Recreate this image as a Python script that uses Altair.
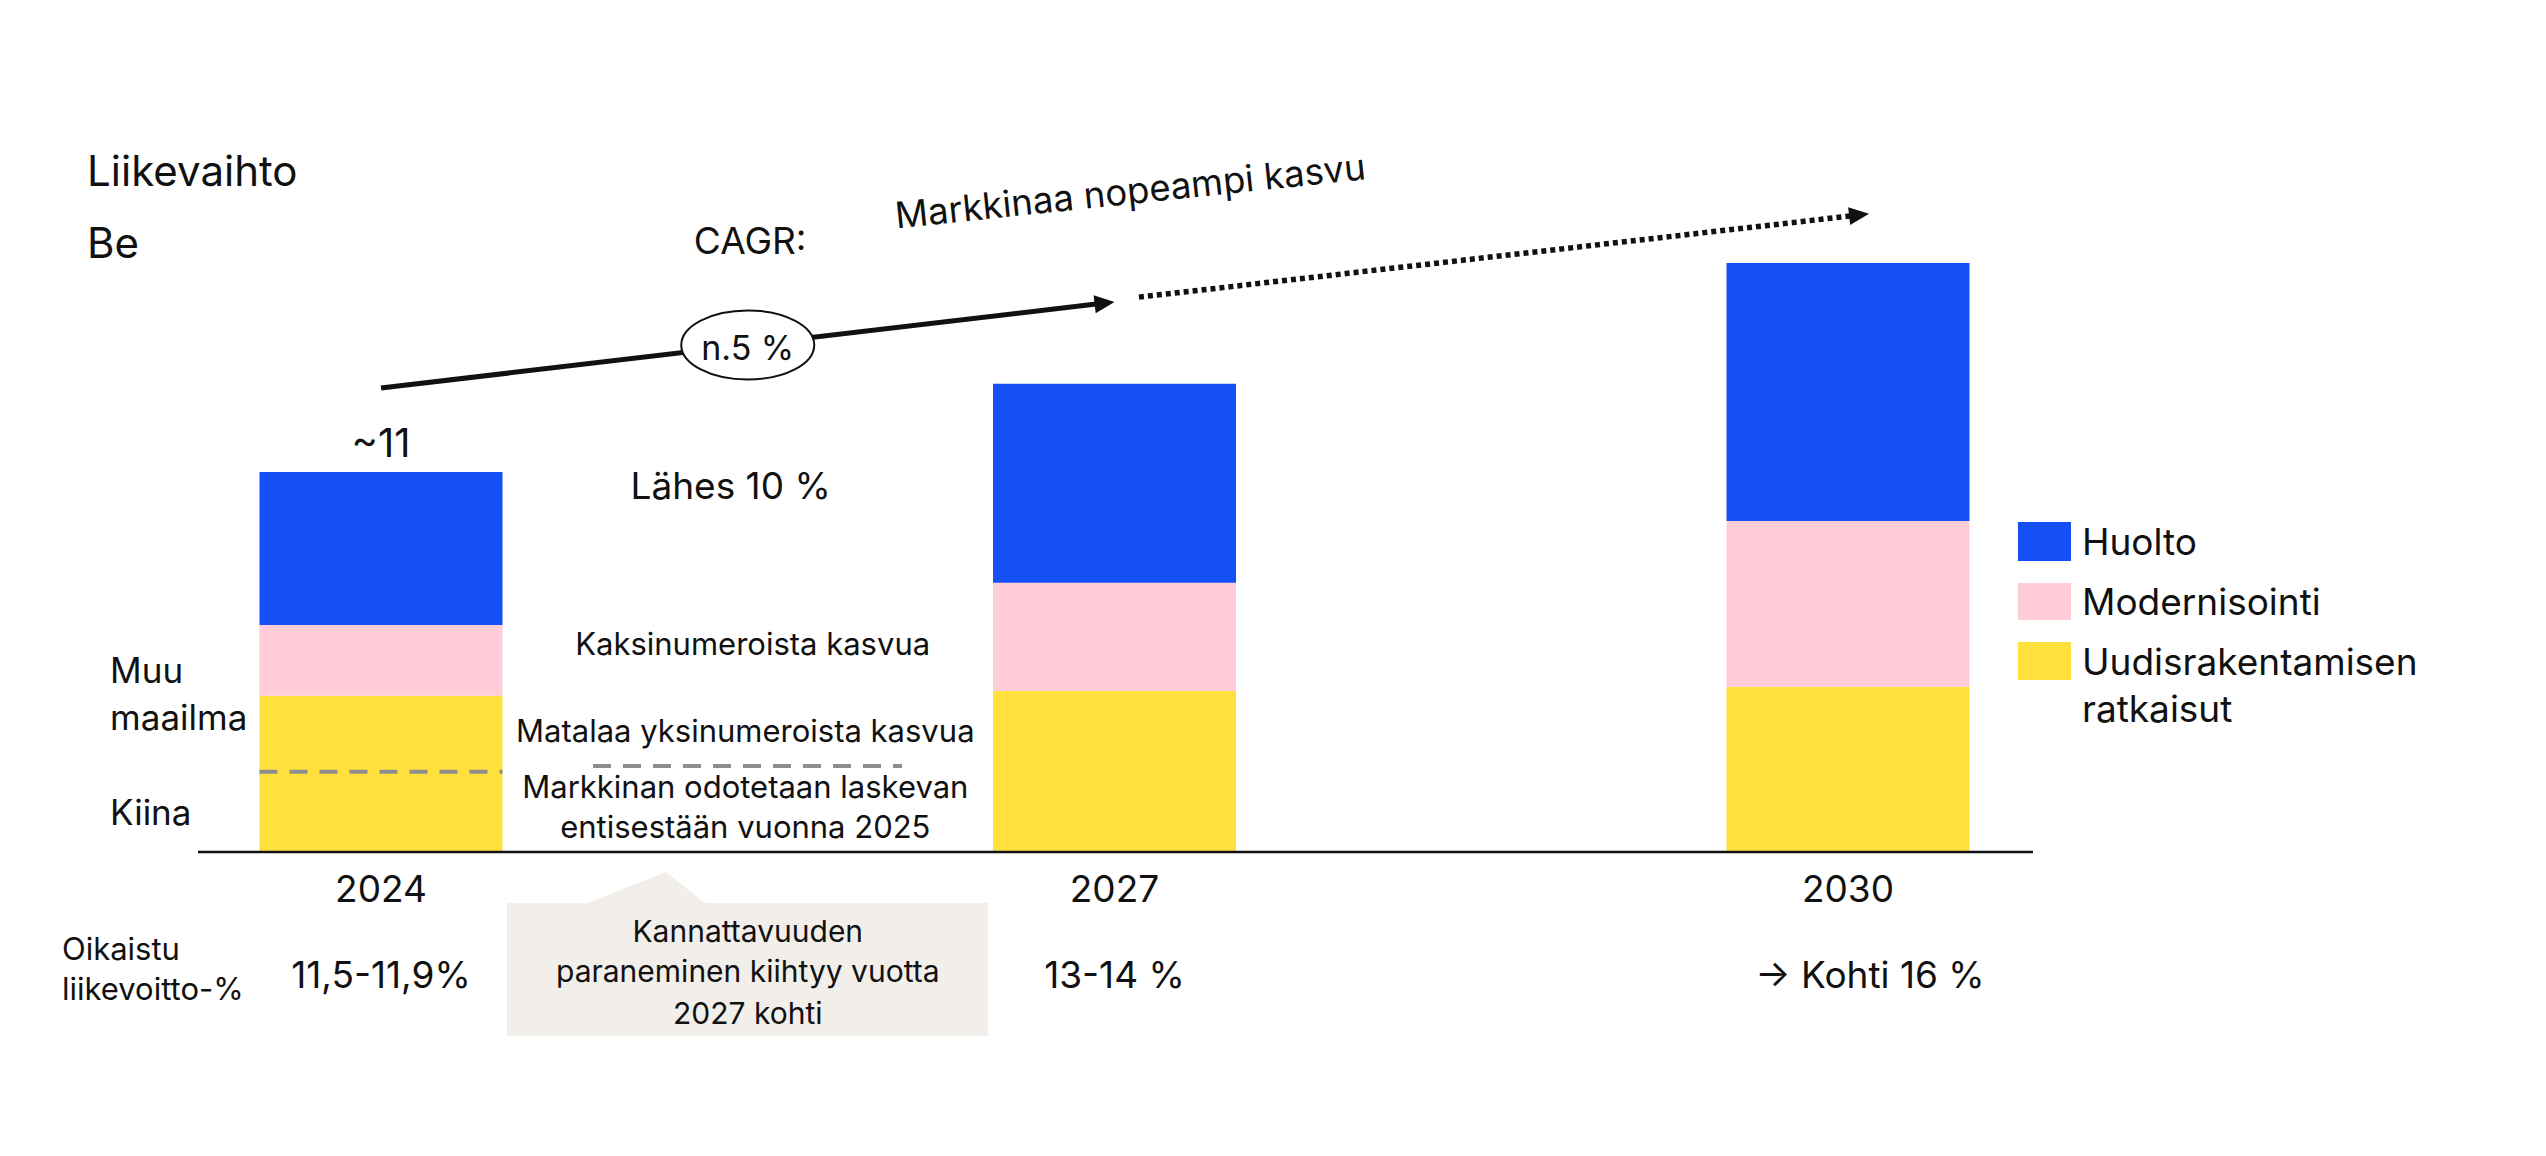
import altair as alt
import pandas as pd

# ---------------- data ----------------
years = [2024, 2027, 2030]
series = ["Uudisrakentamisen ratkaisut", "Modernisointi", "Huolto"]
series_colors = ["#FFE03C", "#FFCCD8", "#1450F5"]
new_build = [4.52, 4.66, 4.78]        # Uudisrakentamisen ratkaisut
modernization = [2.05, 3.13, 4.80]    # Modernisointi
maintenance = [4.43, 5.76, 7.47]      # Huolto
total_label = ["~11", "", ""]
year_label = ["2024", "2027", "2030"]
margin_label = ["11,5-11,9%", "13-14 %", "\u2192 Kohti 16 %"]
margin_x = [2024.0, 2027.0, 2030.09]
china_2024 = 2.32                     # Kiina share of 2024 new-build

FONT = "Inter"
INK = "#111111"
GREY = "#8E8E8E"

XS = alt.Scale(domain=[2022.4417, 2032.8548], nice=False, zero=False)
YS = alt.Scale(domain=[-8.7988, 24.6599], nice=False, zero=False)
CS = alt.Scale(domain=series, range=series_colors)


def X(f="x"):
    return alt.X(f"{f}:Q", scale=XS, axis=None)


def Y(f="y"):
    return alt.Y(f"{f}:Q", scale=YS, axis=None)


# stacked bars (manual stacking)
rows = []
for i, yr in enumerate(years):
    base = 0.0
    for s, vals in zip(series, [new_build, modernization, maintenance]):
        rows.append(dict(year=yr, series=s, x0=yr - 0.497, x1=yr + 0.497,
                         y0=base, y1=base + vals[i]))
        base += vals[i]
bars_df = pd.DataFrame(rows)
tot_df = pd.DataFrame({
    "x": years,
    "y": [a + b + c for a, b, c in zip(new_build, modernization, maintenance)],
    "t": total_label,
})
tot_df = tot_df[tot_df["t"] != ""]

bars = alt.Chart(bars_df).mark_bar(cornerRadius=0, strokeWidth=0).encode(
    x=X("x0"), x2="x1:Q", y=Y("y0"), y2="y1:Q",
    color=alt.Color("series:N", scale=CS, legend=None),
)


def txt(rows_, size, align="center", angle=0, dy=0, color=INK):
    df = pd.DataFrame(rows_, columns=["t", "x", "y"])
    kw = dict(font=FONT, fontSize=size, align=align, baseline="alphabetic",
              color=color, dy=dy)
    if angle:
        kw["angle"] = angle
    return alt.Chart(df).mark_text(**kw).encode(x=X(), y=Y(), text="t:N")


totals = alt.Chart(tot_df).mark_text(font=FONT, fontSize=40, baseline="alphabetic",
                                     color=INK, dy=-15).encode(x=X(), y=Y(), text="t:N")

# x-axis line and year labels
axis_line = alt.Chart(pd.DataFrame({"x": [2023.2515], "x2": [2030.7566], "y": [0.0]})).mark_rule(
    color=INK, strokeWidth=2.5).encode(x=X(), x2="x2:Q", y=Y())
yr_df = pd.DataFrame({"x": years, "y": [0.0] * 3, "t": year_label})
yr_text = alt.Chart(yr_df).mark_text(font=FONT, fontSize=37, baseline="alphabetic",
                                     color=INK, dy=50).encode(x=X(), y=Y(), text="t:N")
mg_df = pd.DataFrame({"x": margin_x, "y": [0.0] * 3, "t": margin_label})
mg_text = alt.Chart(mg_df).mark_text(font=FONT, fontSize=37, baseline="alphabetic",
                                     color=INK, dy=136).encode(x=X(), y=Y(), text="t:N")

# dashed grey lines
china_rule = alt.Chart(pd.DataFrame({"x": [2024 - 0.497], "x2": [2024 + 0.497], "y": [china_2024]})).mark_rule(
    color=GREY, strokeWidth=4, strokeDash=[18, 12]).encode(x=X(), x2="x2:Q", y=Y())
gap_rule = alt.Chart(pd.DataFrame({"x": [2024.867], "x2": [2026.131], "y": [2.49]})).mark_rule(
    color=GREY, strokeWidth=4, strokeDash=[18, 12]).encode(x=X(), x2="x2:Q", y=Y())

# CAGR arrows
solid = [(2024.0, 13.43), (2027.0, 15.92)]
dotted = [(2027.10, 16.06), (2030.086, 18.47)]


def shorten(p, f=0.022):
    (x0, y0), (x1, y1) = p
    return [(x0, y0), (x1 - f * (x1 - x0), y1 - f * (y1 - y0))]


solid_df = pd.DataFrame(shorten(solid), columns=["x", "y"]).assign(o=[0, 1])
dotted_df = pd.DataFrame(shorten(dotted), columns=["x", "y"]).assign(o=[0, 1])
solid_line = alt.Chart(solid_df).mark_line(color=INK, strokeWidth=5).encode(
    x=X(), y=Y(), order="o:Q")
dotted_line = alt.Chart(dotted_df).mark_line(color=INK, strokeWidth=5.5, strokeDash=[5, 4]).encode(
    x=X(), y=Y(), order="o:Q")
HEAD = "M0,0L-1,-0.45L-1,0.45Z"
head1 = alt.Chart(pd.DataFrame([solid[1]], columns=["x", "y"])).mark_point(
    shape=HEAD, size=1600, filled=True, color=INK, opacity=1, angle=353.3).encode(x=X(), y=Y())
head2 = alt.Chart(pd.DataFrame([dotted[1]], columns=["x", "y"])).mark_point(
    shape=HEAD, size=1600, filled=True, color=INK, opacity=1, angle=353.5).encode(x=X(), y=Y())
ELLIPSE = "M-1,0A1,0.52,0,1,0,1,0A1,0.52,0,1,0,-1,0Z"
ellipse = alt.Chart(pd.DataFrame({"x": [2025.5], "y": [14.675]})).mark_point(
    shape=ELLIPSE, size=17689, filled=True, fill="white", stroke=INK, strokeWidth=2,
    opacity=1, fillOpacity=1, strokeOpacity=1).encode(x=X(), y=Y())

# callout box
box = alt.Chart(pd.DataFrame({"x": [2024.515], "x2": [2026.483], "y": [-1.476], "y2": [-5.326]})).mark_rect(
    color="#F2EEEA").encode(x=X(), x2="x2:Q", y=Y(), y2="y2:Q")
tri = alt.Chart(pd.DataFrame({"x": [2024.835, 2025.166, 2025.328],
                              "y": [-1.50, -0.579, -1.50], "y2": [-1.50] * 3})).mark_area(
    color="#F2EEEA", interpolate="linear").encode(x=X(), y=Y(), y2="y2:Q")

# legend (manual)
leg_rect_df = pd.DataFrame({
    "series": ["Huolto", "Modernisointi", "Uudisrakentamisen ratkaisut"],
    "x": [2030.695] * 3, "x2": [2030.912] * 3,
    "y": [9.551, 7.786, 6.078], "y2": [8.423, 6.715, 4.978],
})
leg_rect = alt.Chart(leg_rect_df).mark_rect().encode(
    x=X(), x2="x2:Q", y=Y(), y2="y2:Q", color=alt.Color("series:N", scale=CS, legend=None))
leg_text = txt([("Huolto", 2030.957, 8.596), ("Modernisointi", 2030.957, 6.860),
                ("Uudisrakentamisen", 2030.957, 5.123), ("ratkaisut", 2030.957, 3.763)],
               37, align="left")

layers = [
    bars, china_rule, gap_rule, axis_line, totals, yr_text, mg_text,
    solid_line, dotted_line, head1, head2, ellipse,
    txt([("n.5 %", 2025.5, 14.24)], 34),
    txt([("Liikevaihto", 2022.798, 19.28), ("Be", 2022.798, 17.19)], 42, align="left"),
    txt([("CAGR:", 2025.51, 17.31)], 37),
    txt([("Markkinaa nopeampi kasvu", 2027.07, 18.76)], 36.5, angle=354),
    txt([("L\u00e4hes 10 %", 2025.43, 10.22)], 37),
    txt([("Kaksinumeroista kasvua", 2025.52, 5.70),
         ("Matalaa yksinumeroista kasvua", 2025.49, 3.18),
         ("Markkinan odotetaan laskevan", 2025.49, 1.56),
         ("entisest\u00e4\u00e4n vuonna 2025", 2025.49, 0.405)], 31),
    txt([("Muu", 2022.892, 4.89), ("maailma", 2022.892, 3.53), ("Kiina", 2022.892, 0.78)],
        35, align="left"),
    txt([("Oikaistu", 2022.695, -3.126), ("liikevoitto-%", 2022.695, -4.284)], 31, align="left"),
    box, tri,
    txt([("Kannattavuuden", 2025.5, -2.605),
         ("paraneminen kiihtyy vuotta", 2025.5, -3.763),
         ("2027 kohti", 2025.5, -4.978)], 30),
    leg_rect, leg_text,
]

chart = alt.layer(*layers).properties(
    width=2546, height=1156, padding=0,
    autosize=alt.AutoSizeParams(type="none"),
    background="white",
).configure_view(stroke=None)

chart.save("out.html", embed_options={"renderer": "svg", "actions": False})
